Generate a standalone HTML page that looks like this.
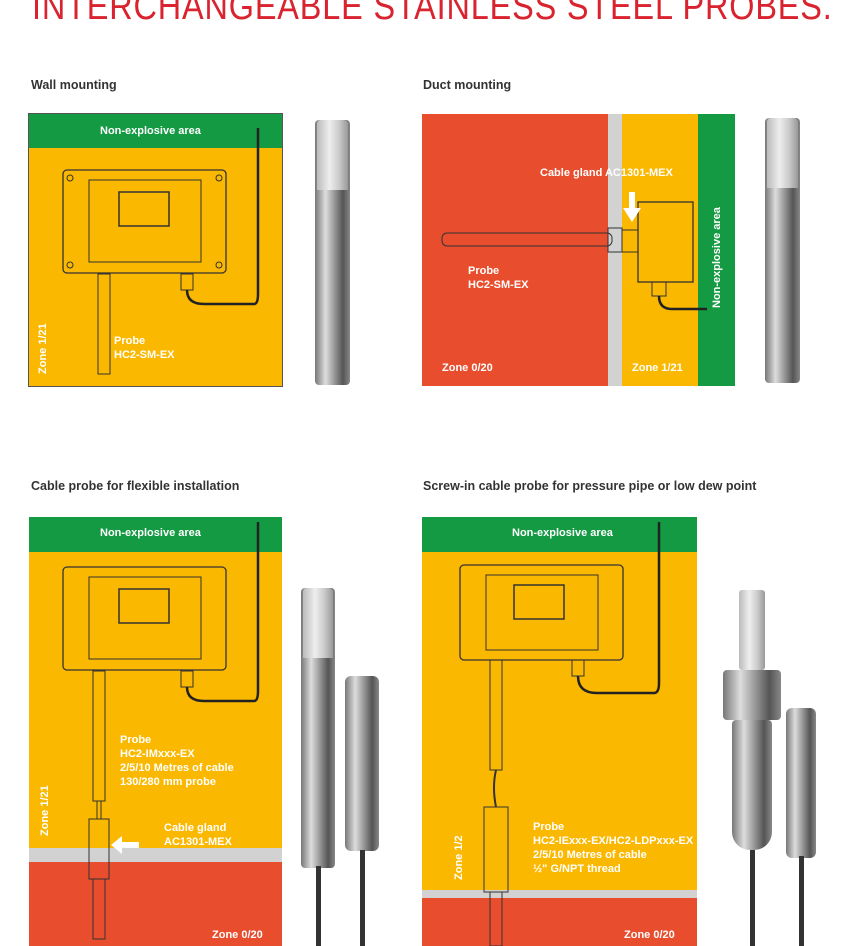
<!DOCTYPE html>
<html><head><style>
body{margin:0;width:859px;height:946px;overflow:hidden;background:#fff;position:relative;font-family:"Liberation Sans",sans-serif}
.a{position:absolute}
.t{position:absolute;color:#fff;font-weight:bold;font-size:11px;line-height:14px;white-space:nowrap}
.h{position:absolute;color:#333;font-weight:bold;font-size:12.5px;white-space:nowrap}
.g{background:#139a43}.y{background:#fbb800}.r{background:#e84e2e}.gr{background:#d2d2d2}
.met{background:linear-gradient(90deg,#777,#ddd 30%,#999 55%,#555 80%,#888)}
.tip{background:linear-gradient(90deg,#bbb,#eee 40%,#ccc 70%,#999)}
</style></head><body>
<div class="a" style="left:32px;top:-14px;color:#d9232e;font-size:38px;white-space:nowrap;transform:scaleX(0.853);transform-origin:left top;letter-spacing:1px">INTERCHANGEABLE STAINLESS STEEL PROBES.</div>

<div class="h" style="left:31px;top:78px">Wall mounting</div>
<div class="h" style="left:423px;top:78px">Duct mounting</div>
<div class="h" style="left:31px;top:479px">Cable probe for flexible installation</div>
<div class="h" style="left:423px;top:479px">Screw-in cable probe for pressure pipe or low dew point</div>

<!-- Panel 1 -->
<div class="a y" style="left:29px;top:114px;width:253px;height:272px;outline:1px solid #555"></div>
<div class="a g" style="left:29px;top:114px;width:253px;height:34px"></div>
<div class="t" style="left:100px;top:124px">Non-explosive area</div>
<svg class="a" style="left:29px;top:114px" width="253" height="272">
<rect x="34" y="56" width="163" height="103" rx="4" fill="none" stroke="#333" stroke-width="1.3"/>
<rect x="60" y="66" width="112" height="82" fill="none" stroke="#333"/>
<rect x="90" y="78" width="50" height="34" fill="none" stroke="#333" stroke-width="1.5"/>
<circle cx="41" cy="64" r="3" fill="none" stroke="#333"/><circle cx="190" cy="64" r="3" fill="none" stroke="#333"/>
<circle cx="41" cy="151" r="3" fill="none" stroke="#333"/><circle cx="190" cy="151" r="3" fill="none" stroke="#333"/>
<rect x="69" y="160" width="12" height="100" fill="none" stroke="#333"/>
<rect x="152" y="160" width="12" height="16" fill="none" stroke="#333"/>
<path d="M158 176 Q158 190 175 190 L225 190 Q229 190 229 180 L229 14" fill="none" stroke="#222" stroke-width="2.5"/>
</svg>
<div class="t" style="left:114px;top:334px">Probe<br>HC2-SM-EX</div>
<div class="t" style="left:36px;top:374px;transform:rotate(-90deg);transform-origin:left top">Zone 1/21</div>
<div class="a met" style="left:315px;top:120px;width:35px;height:265px;border-radius:4px"></div>
<div class="a tip" style="left:317px;top:120px;width:31px;height:70px;border-radius:4px 4px 0 0"></div>

<!-- Panel 2 -->
<div class="a r" style="left:422px;top:114px;width:186px;height:272px"></div>
<div class="a gr" style="left:608px;top:114px;width:14px;height:272px"></div>
<div class="a y" style="left:622px;top:114px;width:76px;height:272px"></div>
<div class="a g" style="left:698px;top:114px;width:37px;height:272px"></div>
<svg class="a" style="left:422px;top:114px" width="313" height="272">
<rect x="20" y="119" width="170" height="13" rx="5" fill="none" stroke="#333"/>
<rect x="186" y="114" width="14" height="24" fill="none" stroke="#333"/>
<rect x="200" y="116" width="16" height="22" fill="none" stroke="#333"/>
<rect x="216" y="88" width="55" height="80" fill="none" stroke="#333" stroke-width="1.3"/>
<rect x="230" y="168" width="14" height="14" fill="none" stroke="#333"/>
<path d="M237 182 Q237 195 250 195 L285 195" fill="none" stroke="#222" stroke-width="2.5"/>
<path d="M207 78 L207 94 L201 94 L210 108 L219 94 L213 94 L213 78Z" fill="#fff"/>
</svg>
<div class="t" style="left:540px;top:166px">Cable gland AC1301-MEX</div>
<div class="t" style="left:468px;top:264px">Probe<br>HC2-SM-EX</div>
<div class="t" style="left:442px;top:361px">Zone 0/20</div>
<div class="t" style="left:632px;top:361px">Zone 1/21</div>
<div class="t" style="left:710px;top:308px;transform:rotate(-90deg);transform-origin:left top">Non-explosive area</div>
<div class="a met" style="left:765px;top:118px;width:35px;height:265px;border-radius:4px"></div>
<div class="a tip" style="left:767px;top:118px;width:31px;height:70px;border-radius:4px 4px 0 0"></div>

<!-- Panel 3 -->
<div class="a y" style="left:29px;top:517px;width:253px;height:429px"></div>
<div class="a g" style="left:29px;top:517px;width:253px;height:35px"></div>
<div class="a gr" style="left:29px;top:848px;width:253px;height:14px"></div>
<div class="a r" style="left:29px;top:862px;width:253px;height:84px"></div>
<div class="t" style="left:100px;top:526px">Non-explosive area</div>
<svg class="a" style="left:29px;top:517px" width="253" height="429">
<rect x="34" y="50" width="163" height="103" rx="4" fill="none" stroke="#333" stroke-width="1.3"/>
<rect x="60" y="60" width="112" height="82" fill="none" stroke="#333"/>
<rect x="90" y="72" width="50" height="34" fill="none" stroke="#333" stroke-width="1.5"/>
<rect x="152" y="154" width="12" height="16" fill="none" stroke="#333"/>
<path d="M158 170 Q158 184 175 184 L225 184 Q229 184 229 174 L229 5" fill="none" stroke="#222" stroke-width="2.5"/>
<rect x="64" y="154" width="12" height="130" fill="none" stroke="#333"/>
<rect x="68" y="284" width="4" height="18" fill="none" stroke="#333"/>
<rect x="60" y="302" width="20" height="60" fill="none" stroke="#333"/>
<rect x="64" y="362" width="12" height="60" fill="none" stroke="#333"/>
<path d="M110 325 L93 325 L93 319 L82 328 L93 337 L93 331 L110 331Z" fill="#fff"/>
</svg>
<div class="t" style="left:120px;top:733px">Probe<br>HC2-IMxxx-EX<br>2/5/10 Metres of cable<br>130/280 mm probe</div>
<div class="t" style="left:164px;top:821px">Cable gland<br>AC1301-MEX</div>
<div class="t" style="left:212px;top:928px">Zone 0/20</div>
<div class="t" style="left:38px;top:836px;transform:rotate(-90deg);transform-origin:left top">Zone 1/21</div>
<div class="a met" style="left:301px;top:588px;width:34px;height:280px;border-radius:4px"></div>
<div class="a tip" style="left:303px;top:588px;width:30px;height:70px;border-radius:4px 4px 0 0"></div>
<div class="a" style="left:316px;top:866px;width:5px;height:80px;background:#333"></div>
<div class="a met" style="left:345px;top:676px;width:34px;height:175px;border-radius:6px"></div>
<div class="a" style="left:360px;top:850px;width:5px;height:96px;background:#333"></div>

<!-- Panel 4 -->
<div class="a y" style="left:422px;top:517px;width:275px;height:429px"></div>
<div class="a g" style="left:422px;top:517px;width:275px;height:35px"></div>
<div class="a gr" style="left:422px;top:890px;width:275px;height:8px"></div>
<div class="a r" style="left:422px;top:898px;width:275px;height:48px"></div>
<div class="t" style="left:512px;top:526px">Non-explosive area</div>
<svg class="a" style="left:422px;top:517px" width="275" height="429">
<rect x="38" y="48" width="163" height="95" rx="4" fill="none" stroke="#333" stroke-width="1.3"/>
<rect x="64" y="58" width="112" height="75" fill="none" stroke="#333"/>
<rect x="92" y="68" width="50" height="34" fill="none" stroke="#333" stroke-width="1.5"/>
<rect x="150" y="143" width="12" height="16" fill="none" stroke="#333"/>
<path d="M156 159 Q156 176 175 176 L232 176 Q237 176 237 166 L237 5" fill="none" stroke="#222" stroke-width="2.5"/>
<rect x="68" y="143" width="12" height="110" fill="none" stroke="#333"/>
<path d="M74 253 Q70 270 74 290" fill="none" stroke="#333" stroke-width="2"/>
<rect x="62" y="290" width="24" height="85" fill="none" stroke="#333"/>
<rect x="68" y="375" width="12" height="54" fill="none" stroke="#333"/>
</svg>
<div class="t" style="left:533px;top:820px">Probe<br>HC2-IExxx-EX/HC2-LDPxxx-EX<br>2/5/10 Metres of cable<br>½" G/NPT thread</div>
<div class="t" style="left:624px;top:928px">Zone 0/20</div>
<div class="t" style="left:452px;top:880px;transform:rotate(-90deg);transform-origin:left top">Zone 1/2</div>
<div class="a tip" style="left:739px;top:590px;width:26px;height:80px;border-radius:3px"></div>
<div class="a met" style="left:723px;top:670px;width:58px;height:50px;border-radius:4px"></div>
<div class="a met" style="left:732px;top:720px;width:40px;height:130px;border-radius:4px 4px 18px 18px"></div>
<div class="a" style="left:750px;top:850px;width:5px;height:96px;background:#333"></div>
<div class="a met" style="left:786px;top:708px;width:30px;height:150px;border-radius:6px"></div>
<div class="a" style="left:799px;top:856px;width:5px;height:90px;background:#333"></div>
</body></html>
